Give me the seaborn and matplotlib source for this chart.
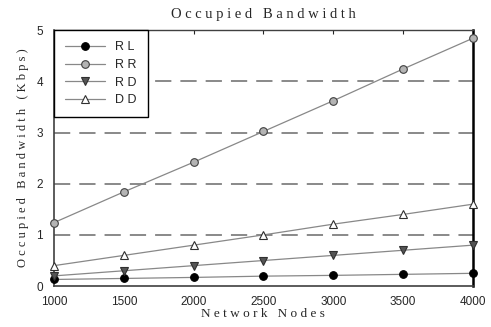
import numpy as np
import pandas as pd
import matplotlib
matplotlib.use("Agg")
import matplotlib.pyplot as plt
import seaborn as sns

nodes = [1000, 1500, 2000, 2500, 3000, 3500, 4000]
rl = [0.13, 0.15, 0.17, 0.195, 0.21, 0.23, 0.25]
rr = [1.24, 1.84, 2.42, 3.02, 3.62, 4.24, 4.84]
rd = [0.20, 0.30, 0.40, 0.50, 0.60, 0.70, 0.80]
dd = [0.40, 0.60, 0.80, 1.00, 1.21, 1.40, 1.60]
series_names = ["RL", "RR", "RD", "DD"]

sns.set_style("white")

fig = plt.figure(figsize=(4.91, 3.27), dpi=100)
ax = fig.add_axes([0.110, 0.125, 0.853, 0.783])

# dashed grid lines
for yv in [1, 2, 3, 4]:
    ax.axhline(yv, color="#808080", lw=1.3, ls=(0, (9, 5)), zorder=0)

styles = {
    "RL": dict(marker="o", markerfacecolor="black", markeredgecolor="black"),
    "RR": dict(marker="o", markerfacecolor="#b4b4b4", markeredgecolor="#404040"),
    "RD": dict(marker="v", markerfacecolor="#555555", markeredgecolor="#303030"),
    "DD": dict(marker="^", markerfacecolor="white", markeredgecolor="#303030"),
}
values = {"RL": rl, "RR": rr, "RD": rd, "DD": dd}

for name in series_names:
    st = styles[name]
    sns.lineplot(x=nodes, y=values[name], ax=ax, color="#888888", lw=0.9,
                 marker=st["marker"], markersize=5.5,
                 markerfacecolor=st["markerfacecolor"],
                 markeredgecolor=st["markeredgecolor"], markeredgewidth=0.8,
                 label=" ".join(name), clip_on=False, zorder=3)

ax.set_xlim(1000, 4000)
ax.set_ylim(0, 5)
ax.set_xticks(nodes)
ax.set_yticks([0, 1, 2, 3, 4, 5])
ax.tick_params(axis="x", direction="in", length=3, top=True, bottom=False,
               labeltop=False, labelbottom=True, labelsize=8.5, pad=7)
ax.tick_params(axis="y", direction="in", length=0, labelsize=8.5, pad=8)

for lab in ax.get_xticklabels() + ax.get_yticklabels():
    lab.set_fontfamily("Liberation Sans")

for s in ["left", "bottom"]:
    ax.spines[s].set_color("#404040")
    ax.spines[s].set_linewidth(1.2)
ax.spines["top"].set_color("#404040")
ax.spines["top"].set_linewidth(1.0)
ax.spines["right"].set_color("black")
ax.spines["right"].set_linewidth(1.8)

ax.set_title("O c c u p i e d   B a n d w i d t h", fontfamily="Liberation Serif",
             fontsize=10.5, pad=9)
ax.set_xlabel("N e t w o r k   N o d e s", fontfamily="Liberation Serif",
              fontsize=9.5, labelpad=0)
ax.set_ylabel("O c c u p i e d   B a n d w i d t h   ( K b p s )",
              fontfamily="Liberation Serif", fontsize=9, labelpad=5)

leg = ax.legend(loc="upper left", bbox_to_anchor=(0.0, 1.0), frameon=True,
                fancybox=False, edgecolor="black", framealpha=1,
                prop={"family": "Liberation Sans", "size": 9},
                handlelength=3.2, borderpad=0.9, labelspacing=0.45,
                borderaxespad=0.0, handletextpad=0.8)
leg.get_frame().set_linewidth(1.0)

fig.savefig("out.png", dpi=100)
